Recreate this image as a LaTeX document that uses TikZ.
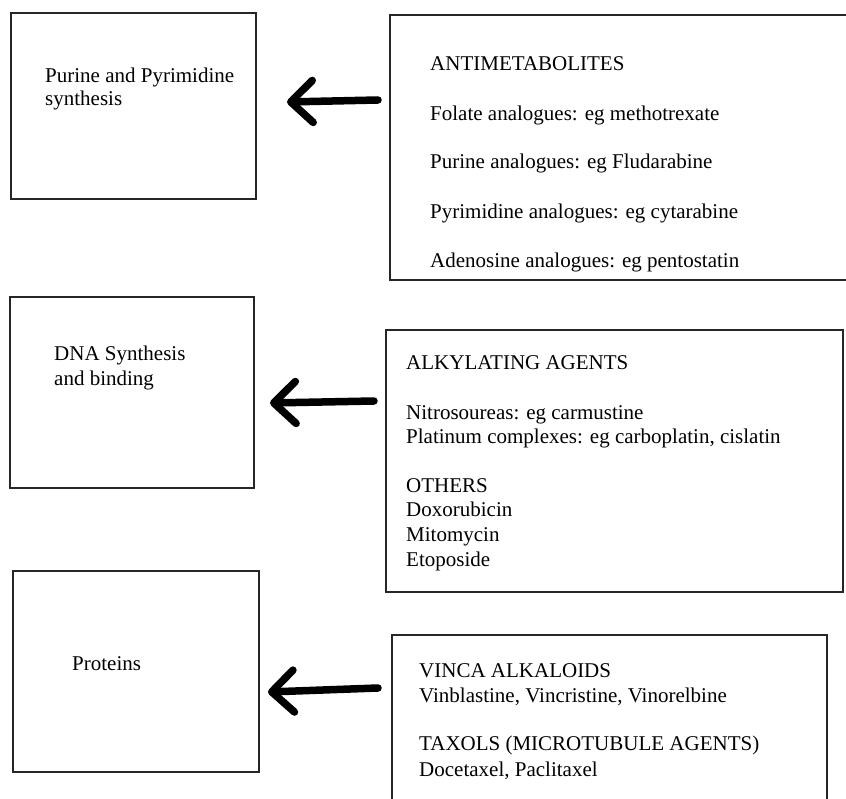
\documentclass[tikz,border=0pt]{standalone}
\usepackage{fontspec}
\setmainfont{Liberation Serif}
\usetikzlibrary{arrows.meta}
\begin{document}
\begin{tikzpicture}[x=1pt,y=-1pt,
  box/.style={draw=black!85, line width=1.8pt, rectangle, inner sep=0pt},
  lbl/.style={anchor=base west, inner sep=0pt, font=\fontsize{21}{25}\selectfont, text=black},
  bigarrow/.style={line width=7.5pt, line cap=round, line join=round,
    -{Straight Barb[length=22pt, width=42pt, round]}}]
\useasboundingbox (0,0) rectangle (846,799);
\clip (0,0) rectangle (846,799);
% left boxes
\node[box, minimum width=245pt, minimum height=186pt] (b1) at (133.5,106) {};
\node[box, minimum width=244pt, minimum height=191pt] (b3) at (132,392.5) {};
\node[box, minimum width=246pt, minimum height=201pt] (b5) at (136,671.5) {};
% right boxes
\node[box, minimum width=462pt, minimum height=265pt] (b2) at (621,147.5) {};
\node[box, minimum width=457pt, minimum height=262pt] (b4) at (614.5,461) {};
\node[box, minimum width=435pt, minimum height=171pt] (b6) at (609.5,720.5) {};
% box 1 text
\node[lbl] (t1a) at (45,83) {Purine and Pyrimidine};
\node[lbl] (t1b) at (45,106) {synthesis};
% box 2 text
\node[lbl] (t2a) at (430,71) {ANTIMETABOLITES};
\node[lbl] (t2b) at (430,121) {Folate analogues: eg methotrexate};
\node[lbl] (t2c) at (430,169) {Purine analogues: eg Fludarabine};
\node[lbl] (t2d) at (430,219) {Pyrimidine analogues: eg cytarabine};
\node[lbl] (t2e) at (430,268) {Adenosine analogues: eg pentostatin};
% box 3 text
\node[lbl] (t3a) at (54,361) {DNA Synthesis};
\node[lbl] (t3b) at (54,386) {and binding};
% box 4 text
\node[lbl] (t4a) at (406,370) {ALKYLATING AGENTS};
\node[lbl] (t4b) at (406,419) {Nitrosoureas: eg carmustine};
\node[lbl] (t4c) at (406,443) {Platinum complexes: eg carboplatin, cislatin};
\node[lbl] (t4d) at (406,492) {OTHERS};
\node[lbl] (t4e) at (406,516) {Doxorubicin};
\node[lbl] (t4f) at (406,541) {Mitomycin};
\node[lbl] (t4g) at (406,566) {Etoposide};
% box 5 text
\node[lbl] (t5a) at (72,670) {Proteins};
% box 6 text
\node[lbl] (t6a) at (419,677) {VINCA ALKALOIDS};
\node[lbl] (t6b) at (419,702) {Vinblastine, Vincristine, Vinorelbine};
\node[lbl] (t6c) at (419,750) {TAXOLS (MICROTUBULE AGENTS)};
\node[lbl] (t6d) at (419,776) {Docetaxel, Paclitaxel};
% arrows
\coordinate (a1s) at (378,100);
\coordinate (a1e) at (287,102);
\coordinate (a2s) at (374,401);
\coordinate (a2e) at (270,403);
\coordinate (a3s) at (378,688);
\coordinate (a3e) at (268,692);
\draw[bigarrow] (a1s) -- (a1e);
\draw[bigarrow] (a2s) -- (a2e);
\draw[bigarrow] (a3s) -- (a3e);
\end{tikzpicture}
\end{document}
